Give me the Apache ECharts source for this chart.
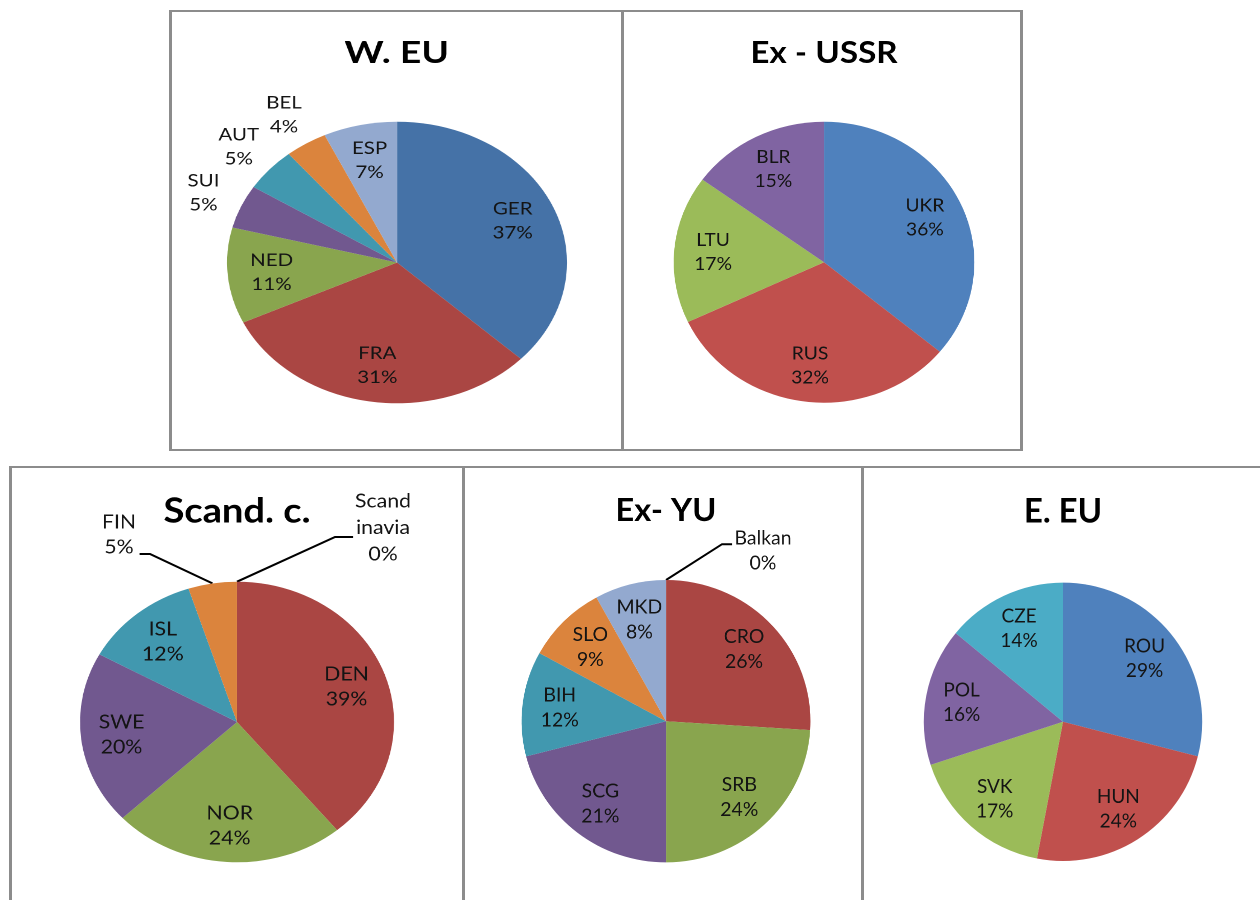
<!DOCTYPE html>
<html><head><meta charset="utf-8">
<script src="https://cdn.jsdelivr.net/npm/echarts@6/dist/echarts.min.js"></script>
<style>
html,body{margin:0;padding:0;background:#fff;width:1260px;height:900px;overflow:hidden;position:relative}
.box{position:absolute;border:2px solid #8c8c8c;box-sizing:border-box}
.box.thick{border-left-width:3px;border-right-width:3px}
.chart{position:absolute;transform-origin:0 0}
</style></head><body>
<script>
// ---------------- data ----------------
const titles = ['W. EU', 'Ex - USSR', 'Scand. c.', 'Ex- YU', 'E. EU'];

const weuNames = ['GER', 'FRA', 'NED', 'SUI', 'AUT', 'BEL', 'ESP'];
const weuValues = [37, 31, 11, 5, 5, 4, 7];

const ussrNames = ['UKR', 'RUS', 'LTU', 'BLR'];
const ussrValues = [36, 32, 17, 15];

const scandNames = ['Scandinavia', 'DEN', 'NOR', 'SWE', 'ISL', 'FIN'];
const scandValues = [0, 39, 24, 20, 12, 5];

const yuNames = ['Balkan', 'CRO', 'SRB', 'SCG', 'BIH', 'SLO', 'MKD'];
const yuValues = [0, 26, 24, 21, 12, 9, 8];

const eeuNames = ['ROU', 'HUN', 'SVK', 'POL', 'CZE'];
const eeuValues = [29, 24, 17, 16, 14];

// ---------------- styles / layout ----------------
const paletteDark = ['#4572A7', '#AA4643', '#89A54E', '#71588F', '#4198AF', '#DB843D', '#93A9CF'];
const paletteLight = ['#4F81BD', '#C0504D', '#9BBB59', '#8064A2', '#4BACC6', '#F79646'];
const wrapText = { Scandinavia: 'Scand\ninavia' };

const panels = [
  { names: weuNames, values: weuValues, title: titles[0], colors: paletteDark,
    box: [169, 10, 455, 441], thick: true, top: 10, h: 441, w: 452,
    cx: 396.7, cy: 262.5, r: 140.8, s: 1.207, titleY: 51, titleSize: 31, labelSize: 17, lh: 24,
    modes: ['in', 'in', 'in', 'ring', 'ring', 'ring', 'in'], callouts: {} },
  { names: ussrNames, values: ussrValues, title: titles[1], colors: paletteLight,
    box: [621, 10, 402, 441], thick: true, top: 10, h: 441, w: 396,
    cx: 823.7, cy: 262.2, r: 140.5, s: 1.07, titleY: 51, titleSize: 31, labelSize: 18, lh: 24,
    modes: ['in', 'in', 'in', 'in'], callouts: {} },
  { names: scandNames, values: scandValues, title: titles[2], colors: paletteDark,
    box: [9, 466, 456, 500], thick: true, top: 466, h: 434, w: 452,
    cx: 237, cy: 722, r: 140.3, s: 1.119, titleY: 509.5, titleSize: 34, labelSize: 19, lh: 25,
    modes: ['call', 'in', 'in', 'in', 'in', 'call'],
    callouts: {
      0: { label: [146, -194], elbow: [98, -185], end: [116, -185], lh: 26.5 },
      5: { label: [-118, -187], elbow: [-87, -168], end: [-97.5, -168] }
    } },
  { names: yuNames, values: yuValues, title: titles[3], colors: paletteDark,
    box: [462, 466, 402, 500], thick: true, top: 466, h: 434, w: 392,
    cx: 666.2, cy: 721.2, r: 141.2, s: 1.023, titleY: 509, titleSize: 32, labelSize: 19, lh: 25,
    modes: ['call', 'in', 'in', 'in', 'in', 'in', 'in'],
    callouts: {
      0: { label: [97, -170.5], elbow: [56, -177], end: [66, -177] }
    } },
  { names: eeuNames, values: eeuValues, title: titles[4], colors: paletteLight,
    box: [861, 466, 420, 500], thick: true, top: 466, h: 434, w: 394,
    cx: 1063, cy: 721.8, r: 139.2, s: 1.0, titleY: 510, titleSize: 33, labelSize: 19, lh: 24.5,
    modes: ['in', 'in', 'in', 'in', 'in'], callouts: {} }
];

function fmt(prm) {
  const nm = wrapText[prm.name] || prm.name;
  return nm + '\n' + prm.percent + '%';
}

panels.forEach(function (p) {
  const b = document.createElement('div');
  b.className = 'box' + (p.thick ? ' thick' : '');
  b.style.left = p.box[0] + 'px'; b.style.top = p.box[1] + 'px';
  b.style.width = p.box[2] + 'px'; b.style.height = p.box[3] + 'px';
  document.body.appendChild(b);

  const wLocal = p.w / p.s;
  const div = document.createElement('div');
  div.className = 'chart';
  div.style.left = (p.cx - p.w / 2) + 'px';
  div.style.top = p.top + 'px';
  div.style.width = wLocal + 'px';
  div.style.height = p.h + 'px';
  div.style.transform = 'scaleX(' + p.s + ')';
  document.body.appendChild(div);

  const chart = echarts.init(div, null, { renderer: 'canvas', devicePixelRatio: 2 });
  const pcx = wLocal / 2, pcy = p.cy - p.top, R = p.r;
  const total = p.values.reduce(function (a, v) { return a + v; }, 0);

  const textBase = {
    fontFamily: 'Lato', fontSize: p.labelSize, lineHeight: p.lh, color: '#141414',
    textBorderWidth: 0, formatter: fmt
  };

  const mainData = p.names.map(function (n, i) {
    const d = { name: n, value: p.values[i] };
    if (p.modes[i] === 'call') {
      d.label = { show: true };
      if (p.callouts[i] && p.callouts[i].lh) d.label.lineHeight = p.callouts[i].lh;
      d.labelLine = { show: true };
    }
    return d;
  });
  const mkLabelData = function (mode) {
    return p.names.map(function (n, i) {
      return { name: n, value: p.values[i], label: { show: p.modes[i] === mode } };
    });
  };

  chart.setOption({
    animation: false,
    color: p.colors,
    title: {
      text: p.title, left: 'center', top: p.titleY - 0.44 * p.titleSize - p.top, padding: 0,
      textStyle: { fontFamily: 'Lato', fontWeight: 'bold', fontSize: p.titleSize, color: '#000' }
    },
    series: [
      {
        type: 'pie', center: [pcx, pcy], radius: [0, R], startAngle: 90, clockwise: true,
        silent: true, percentPrecision: 0, avoidLabelOverlap: false, minShowLabelAngle: 0,
        itemStyle: { borderWidth: 0 },
        emphasis: { disabled: true },
        label: Object.assign({ show: false, position: 'outside' }, textBase),
        labelLine: { show: false, length: 10, length2: 10, smooth: false,
          lineStyle: { color: '#000', width: 2 } },
        labelLayout: function (prm) {
          const c = p.callouts[prm.dataIndex];
          if (!c) return { hideOverlap: false };
          let cum = 0;
          for (let k = 0; k < prm.dataIndex; k++) cum += p.values[k];
          const a = (cum + p.values[prm.dataIndex] / 2) / total * Math.PI * 2;
          const sx = pcx + R * Math.sin(a), sy = pcy - R * Math.cos(a);
          return {
            hideOverlap: false,
            x: pcx + c.label[0] / p.s, y: pcy + c.label[1], align: 'center', verticalAlign: 'middle',
            labelLinePoints: [[sx, sy], [pcx + c.elbow[0] / p.s, pcy + c.elbow[1]], [pcx + c.end[0] / p.s, pcy + c.end[1]]]
          };
        },
        data: mainData
      },
      {
        type: 'pie', center: [pcx, pcy], radius: [0.44 * R, R], startAngle: 90, clockwise: true,
        silent: true, percentPrecision: 0, avoidLabelOverlap: false, z: 5,
        itemStyle: { color: 'rgba(0,0,0,0)', borderWidth: 0 },
        emphasis: { disabled: true },
        label: Object.assign({ show: true, position: 'inside' }, textBase),
        labelLine: { show: false },
        labelLayout: { hideOverlap: false },
        data: mkLabelData('in')
      },
      {
        type: 'pie', center: [pcx, pcy], radius: [1.04 * R, 1.4 * R], startAngle: 90, clockwise: true,
        silent: true, percentPrecision: 0, avoidLabelOverlap: false, z: 5,
        itemStyle: { color: 'rgba(0,0,0,0)', borderWidth: 0 },
        emphasis: { disabled: true },
        label: Object.assign({ show: true, position: 'inside' }, textBase),
        labelLine: { show: false },
        labelLayout: { hideOverlap: false },
        data: mkLabelData('ring')
      }
    ]
  });
});
</script>
</body></html>
